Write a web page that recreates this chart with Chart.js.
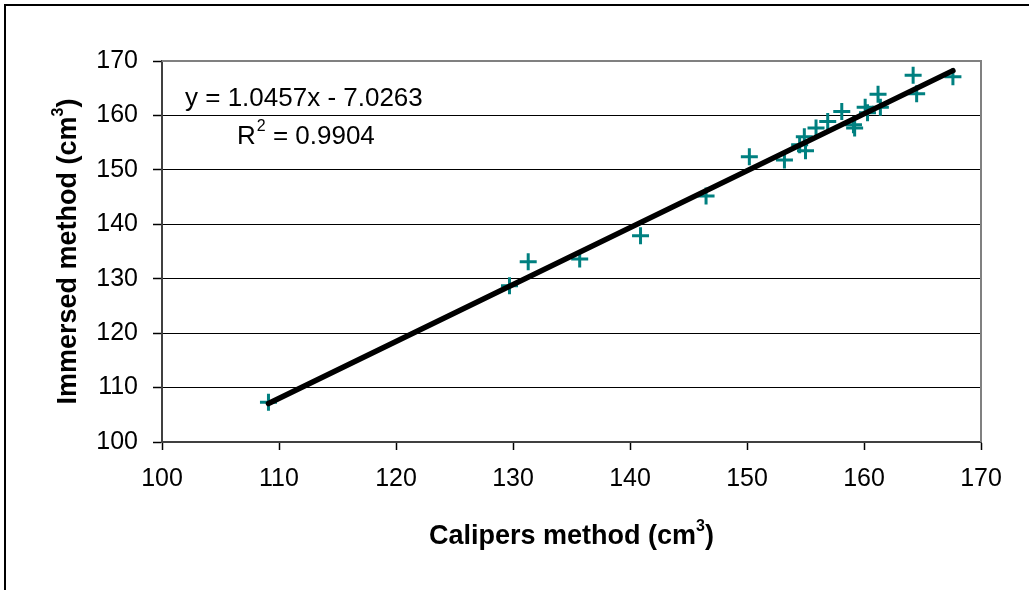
<!DOCTYPE html>
<html>
<head>
<meta charset="utf-8">
<script src="https://cdn.jsdelivr.net/npm/chart.js@4.4.1/dist/chart.umd.min.js"></script>
<style>
  html, body { margin: 0; padding: 0; background: #fff; }
  #wrap { width: 1029px; height: 590px; }
</style>
</head>
<body>
<div id="wrap"><canvas id="c" width="1029" height="590"></canvas></div>
<script>
// Volume measured by calipers vs. by immersion (cm³)
const calipers = [109.1, 129.7, 131.3, 135.7, 140.9, 146.5, 150.2, 153.2, 154.5, 154.9, 155.0, 155.9,
                  156.9, 158.1, 159.1, 159.2, 160.1, 160.3, 161.2, 161.4, 164.2, 164.5, 167.6];
const immersed = [107.3, 128.7, 133.1, 133.6, 137.9, 145.2, 152.4, 151.8, 154.6, 156.1, 153.5, 157.7,
                  158.9, 160.7, 158.3, 157.7, 161.5, 160.5, 163.9, 161.5, 167.4, 164.0, 167.1];

// Linear fit coefficients
const slope = 1.0457;
const intercept = -7.0263;
const rSquared = '0.9904';

// Axis ticks
const xTicks = [100, 110, 120, 130, 140, 150, 160, 170];
const yTicks = [100, 110, 120, 130, 140, 150, 160, 170];

const points = calipers.map((x, i) => ({ x: x, y: immersed[i] }));
const xMin = Math.min(...calipers), xMax = Math.max(...calipers);
const fitLine = [xMin, xMax].map(x => ({ x: x, y: slope * x + intercept }));

const FONT = '"Liberation Sans", Arial, sans-serif';

// Outer frame, plot frame, axis titles and the fit equation
const decorations = {
  id: 'decorations',
  beforeDraw(chart) {
    const ctx = chart.ctx;
    ctx.save();
    ctx.strokeStyle = '#000';
    ctx.lineWidth = 2;
    ctx.beginPath();
    ctx.moveTo(5, 600);
    ctx.lineTo(5, 5);
    ctx.lineTo(1040, 5);
    ctx.stroke();
    ctx.restore();
  },
  afterDraw(chart) {
    const ctx = chart.ctx;
    const a = chart.chartArea;
    ctx.save();
    // gray frame on top and right of the plot area
    ctx.strokeStyle = '#808080';
    ctx.lineWidth = 2;
    ctx.beginPath();
    ctx.moveTo(a.left, a.top);
    ctx.lineTo(a.right, a.top);
    ctx.lineTo(a.right, a.bottom);
    ctx.stroke();

    ctx.fillStyle = '#000';
    ctx.textBaseline = 'alphabetic';

    // fit equation
    ctx.font = '26px ' + FONT;
    ctx.textAlign = 'left';
    ctx.fillText('y = ' + slope + 'x - ' + Math.abs(intercept).toFixed(4), 185, 106);
    ctx.fillText('R', 237, 144);
    const rw = ctx.measureText('R').width;
    ctx.font = '16px ' + FONT;
    ctx.fillText('2', 237 + rw + 1, 131);
    const sw = ctx.measureText('2').width;
    ctx.font = '26px ' + FONT;
    ctx.fillText(' = ' + rSquared, 237 + rw + 1 + sw, 144);

    // axis titles with superscript exponent
    function titleWithSup(main, sup, tail, cx, baseline) {
      ctx.font = 'bold 27px ' + FONT;
      const w1 = ctx.measureText(main).width;
      const w3 = ctx.measureText(tail).width;
      ctx.font = 'bold 16px ' + FONT;
      const w2 = ctx.measureText(sup).width;
      let x = cx - (w1 + w2 + w3) / 2;
      ctx.textAlign = 'left';
      ctx.font = 'bold 27px ' + FONT;
      ctx.fillText(main, x, baseline);
      ctx.font = 'bold 16px ' + FONT;
      ctx.fillText(sup, x + w1, baseline - 13);
      ctx.font = 'bold 27px ' + FONT;
      ctx.fillText(tail, x + w1 + w2, baseline);
    }
    const cx = (a.left + a.right) / 2;
    titleWithSup('Calipers method (cm', '3', ')', cx, 544);

    ctx.save();
    ctx.translate(76, (a.top + a.bottom) / 2);
    ctx.rotate(-Math.PI / 2);
    titleWithSup('Immersed method (cm', '3', ')', 0, 0);
    ctx.restore();

    ctx.restore();
  }
};

new Chart(document.getElementById('c'), {
  data: {
    datasets: [
      {
        type: 'line',
        data: fitLine,
        borderColor: '#000',
        borderWidth: 5.5,
        borderCapStyle: 'round',
        pointRadius: 0,
        fill: false,
        order: 0
      },
      {
        type: 'scatter',
        data: points,
        pointStyle: 'cross',
        pointRadius: 8.5,
        pointBorderWidth: 3,
        borderColor: '#008080',
        backgroundColor: '#008080',
        pointHoverRadius: 8.5,
        order: 1
      }
    ]
  },
  options: {
    responsive: false,
    animation: false,
    devicePixelRatio: 1,
    layout: { padding: { left: 0, top: 61, right: 48, bottom: 0 } },
    plugins: { legend: { display: false }, tooltip: { enabled: false } },
    scales: {
      x: {
        type: 'linear',
        min: 100,
        max: 170,
        afterBuildTicks: s => { s.ticks = xTicks.map(v => ({ value: v })); },
        afterFit: s => { s.height = 148; },
        ticks: { color: '#000', font: { family: FONT, size: 25 }, padding: 14, maxRotation: 0 },
        grid: { drawOnChartArea: false, drawTicks: true, tickLength: 8, tickColor: '#000', tickWidth: 1.5 },
        border: { color: '#404040', width: 2 }
      },
      y: {
        type: 'linear',
        min: 100,
        max: 170,
        afterBuildTicks: s => { s.ticks = yTicks.map(v => ({ value: v })); },
        afterFit: s => { s.width = 162; },
        ticks: { color: '#000', font: { family: FONT, size: 25 }, padding: 15 },
        grid: { color: '#000', lineWidth: 1, drawTicks: true, tickLength: 9, tickColor: '#000', tickWidth: 1.5 },
        border: { color: '#404040', width: 2 }
      }
    }
  },
  plugins: [decorations]
});
</script>
</body>
</html>
